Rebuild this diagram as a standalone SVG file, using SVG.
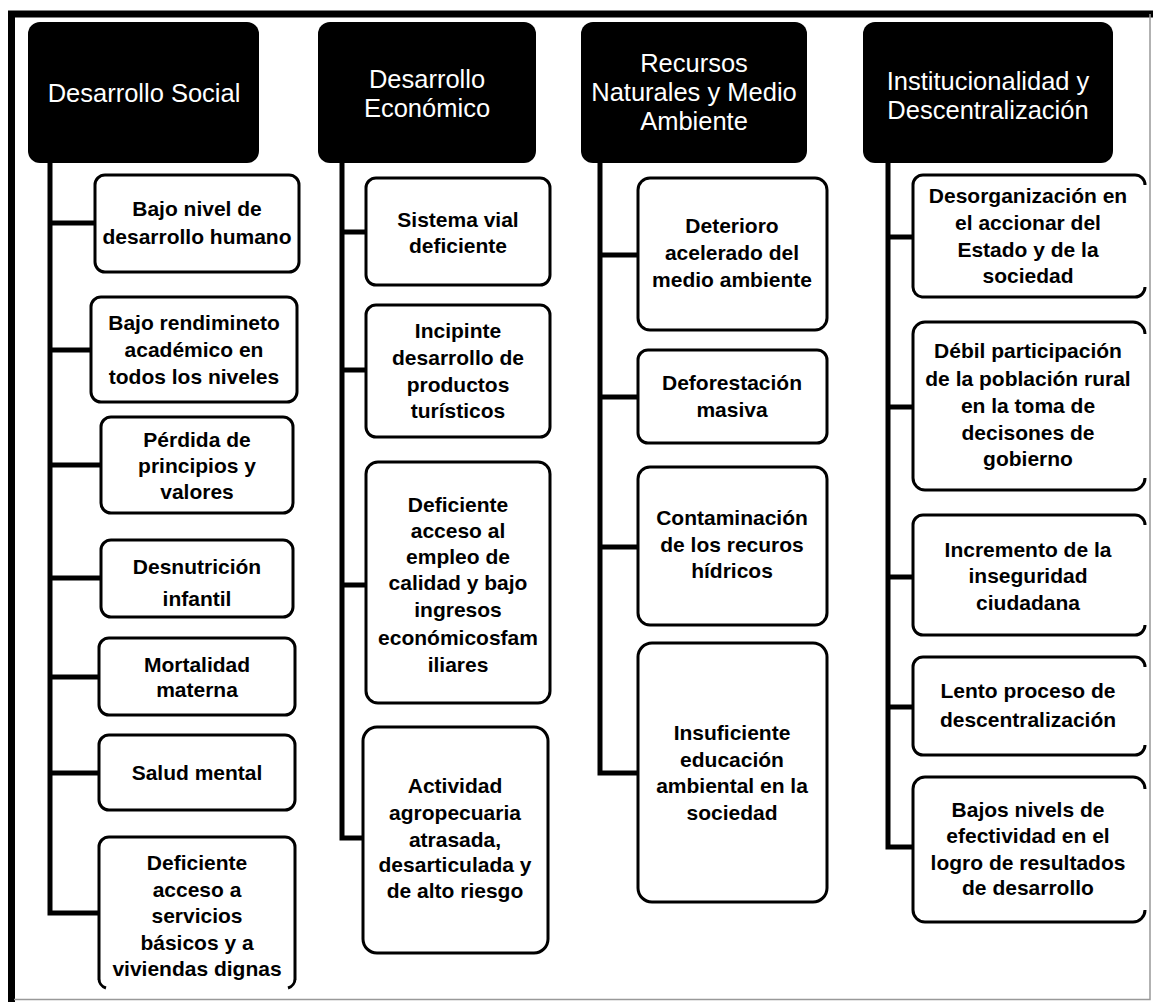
<svg xmlns="http://www.w3.org/2000/svg" width="1153" height="1002" viewBox="0 0 1153 1002">
<style>
.hd{fill:#000}
.ht{fill:#fff;font-family:"Liberation Sans",Arial,sans-serif;font-size:25.5px;text-anchor:middle}
.bx{fill:#fff;stroke:#000;stroke-width:3}
.bt{fill:#000;font-family:"Liberation Sans",Arial,sans-serif;font-size:21px;font-weight:bold;text-anchor:middle}
.cn{fill:none;stroke:#000;stroke-width:5;stroke-linejoin:miter;stroke-linecap:butt}
</style>
<rect x="0" y="0" width="1153" height="1002" fill="#fff"/>
<g id="frame">
<path d="M11.5,1002 V14 H1153" fill="none" stroke="#000" stroke-width="7"/>
<path d="M14,999.5 H1150 V14" fill="none" stroke="#999" stroke-width="1.5"/>
</g>
<g id="connectors">
<path class="cn" d="M50,160 V913 H98"/>
<path class="cn" d="M50,223 H95 M50,350 H91 M50,465 H101 M50,578 H101 M50,677 H99 M50,773 H99"/>
<path class="cn" d="M342,160 V838 H363"/>
<path class="cn" d="M342,232 H366 M342,370 H366 M342,585 H366"/>
<path class="cn" d="M600,160 V773 H638"/>
<path class="cn" d="M600,255 H638 M600,397 H638 M600,547 H638"/>
<path class="cn" d="M888,160 V847 H913"/>
<path class="cn" d="M888,237 H913 M888,407 H913 M888,577 H913 M888,707 H913"/>
</g>
<g id="h1"><rect class="hd" x="28" y="22" width="231" height="141" rx="12"/><text class="ht" x="144" y="102">Desarrollo Social</text></g>
<g id="h2"><rect class="hd" x="318" y="22" width="218" height="141" rx="12"/><text class="ht"><tspan x="427" y="88">Desarrollo</tspan><tspan x="427" y="117">Económico</tspan></text></g>
<g id="h3"><rect class="hd" x="581" y="22" width="226" height="141" rx="12"/><text class="ht"><tspan x="694" y="72">Recursos</tspan><tspan x="694" y="101">Naturales y Medio</tspan><tspan x="694" y="130">Ambiente</tspan></text></g>
<g id="h4"><rect class="hd" x="863" y="22" width="250" height="141" rx="12"/><text class="ht"><tspan x="988" y="90">Institucionalidad y</tspan><tspan x="988" y="119">Descentralización</tspan></text></g>

<g id="c1b1"><rect class="bx" x="95" y="175" width="204" height="97" rx="10"/><text class="bt"><tspan x="197" y="216">Bajo nivel de</tspan><tspan x="197" y="244">desarrollo humano</tspan></text></g>
<g id="c1b2"><rect class="bx" x="91" y="297" width="206" height="105" rx="10"/><text class="bt"><tspan x="194" y="330">Bajo rendimineto</tspan><tspan x="194" y="357">académico en</tspan><tspan x="194" y="384">todos los niveles</tspan></text></g>
<g id="c1b3"><rect class="bx" x="101" y="417" width="192" height="96" rx="10"/><text class="bt"><tspan x="197" y="447">Pérdida de</tspan><tspan x="197" y="473">principios y</tspan><tspan x="197" y="499">valores</tspan></text></g>
<g id="c1b4"><rect class="bx" x="101" y="540" width="192" height="77" rx="10"/><text class="bt"><tspan x="197" y="574">Desnutrición</tspan><tspan x="197" y="606">infantil</tspan></text></g>
<g id="c1b5"><rect class="bx" x="99" y="638" width="196" height="77" rx="10"/><text class="bt"><tspan x="197" y="672">Mortalidad</tspan><tspan x="197" y="697">materna</tspan></text></g>
<g id="c1b6"><rect class="bx" x="99" y="735" width="196" height="75" rx="10"/><text class="bt" x="197" y="780">Salud mental</text></g>
<g id="c1b7"><path d="M99,980 V847 A10,10 0 0 1 109,837 H285 A10,10 0 0 1 295,847 V980 M99,978 A10,10 0 0 0 106,988 M295,978 A10,10 0 0 1 288,988" fill="none" stroke="#000" stroke-width="3"/><text class="bt"><tspan x="197" y="870">Deficiente</tspan><tspan x="197" y="897">acceso a</tspan><tspan x="197" y="923">servicios</tspan><tspan x="197" y="950">básicos y a</tspan><tspan x="197" y="976">viviendas dignas</tspan></text></g>

<g id="c2b1"><rect class="bx" x="366" y="178" width="184" height="107" rx="10"/><text class="bt"><tspan x="458" y="227">Sistema vial</tspan><tspan x="458" y="253">deficiente</tspan></text></g>
<g id="c2b2"><rect class="bx" x="366" y="305" width="184" height="132" rx="10"/><text class="bt"><tspan x="458" y="338">Incipinte</tspan><tspan x="458" y="365">desarrollo de</tspan><tspan x="458" y="392">productos</tspan><tspan x="458" y="418">turísticos</tspan></text></g>
<g id="c2b3"><rect class="bx" x="366" y="462" width="184" height="241" rx="12"/><text class="bt"><tspan x="458" y="512">Deficiente</tspan><tspan x="458" y="538">acceso al</tspan><tspan x="458" y="564">empleo de</tspan><tspan x="458" y="590">calidad y bajo</tspan><tspan x="458" y="617">ingresos</tspan><tspan x="458" y="645">económicosfam</tspan><tspan x="458" y="672">iliares</tspan></text></g>
<g id="c2b4"><rect class="bx" x="363" y="727" width="185" height="226" rx="14"/><text class="bt"><tspan x="455" y="793">Actividad</tspan><tspan x="455" y="820">agropecuaria</tspan><tspan x="455" y="847">atrasada,</tspan><tspan x="455" y="872">desarticulada y</tspan><tspan x="455" y="898">de alto riesgo</tspan></text></g>

<g id="c3b1"><rect class="bx" x="638" y="178" width="189" height="152" rx="12"/><text class="bt"><tspan x="732" y="233">Deterioro</tspan><tspan x="732" y="260">acelerado del</tspan><tspan x="732" y="287">medio ambiente</tspan></text></g>
<g id="c3b2"><rect class="bx" x="638" y="350" width="189" height="93" rx="10"/><text class="bt"><tspan x="732" y="390">Deforestación</tspan><tspan x="732" y="417">masiva</tspan></text></g>
<g id="c3b3"><rect class="bx" x="638" y="467" width="189" height="158" rx="12"/><text class="bt"><tspan x="732" y="525">Contaminación</tspan><tspan x="732" y="552">de los recuros</tspan><tspan x="732" y="578">hídricos</tspan></text></g>
<g id="c3b4"><rect class="bx" x="638" y="643" width="189" height="259" rx="14"/><text class="bt"><tspan x="732" y="740">Insuficiente</tspan><tspan x="732" y="767">educación</tspan><tspan x="732" y="793">ambiental en la</tspan><tspan x="732" y="820">sociedad</tspan></text></g>

<g id="c4b1"><path class="bx" fill="none" d="M1145,287 A10,10 0 0 1 1135,297 H922 A10,10 0 0 1 913,287 V185 A10,10 0 0 1 923,175 H1135 A10,10 0 0 1 1145,185"/><text class="bt"><tspan x="1028" y="203">Desorganización en</tspan><tspan x="1028" y="230">el accionar del</tspan><tspan x="1028" y="257">Estado y de la</tspan><tspan x="1028" y="283">sociedad</tspan></text></g>
<g id="c4b2"><path class="bx" fill="none" d="M1145,478 A12,12 0 0 1 1133,490 H925 A12,12 0 0 1 913,478 V334 A12,12 0 0 1 925,322 H1133 A12,12 0 0 1 1145,334"/><text class="bt"><tspan x="1028" y="358">Débil participación</tspan><tspan x="1028" y="386">de la población rural</tspan><tspan x="1028" y="413">en la toma de</tspan><tspan x="1028" y="440">decisones de</tspan><tspan x="1028" y="466">gobierno</tspan></text></g>
<g id="c4b3"><path class="bx" fill="none" d="M1145,625 A10,10 0 0 1 1135,635 H923 A10,10 0 0 1 913,625 V525 A10,10 0 0 1 923,515 H1135 A10,10 0 0 1 1145,525"/><text class="bt"><tspan x="1028" y="557">Incremento de la</tspan><tspan x="1028" y="583">inseguridad</tspan><tspan x="1028" y="610">ciudadana</tspan></text></g>
<g id="c4b4"><path class="bx" fill="none" d="M1145,745 A10,10 0 0 1 1135,755 H923 A10,10 0 0 1 913,745 V667 A10,10 0 0 1 923,657 H1135 A10,10 0 0 1 1145,667"/><text class="bt"><tspan x="1028" y="698">Lento proceso de</tspan><tspan x="1028" y="727">descentralización</tspan></text></g>
<g id="c4b5"><path class="bx" fill="none" d="M1145,910 A12,12 0 0 1 1133,922 H925 A12,12 0 0 1 913,910 V789 A12,12 0 0 1 925,777 H1133 A12,12 0 0 1 1145,789"/><text class="bt"><tspan x="1028" y="817">Bajos nivels de</tspan><tspan x="1028" y="843">efectividad en el</tspan><tspan x="1028" y="870">logro de resultados</tspan><tspan x="1028" y="895">de desarrollo</tspan></text></g>
</svg>
